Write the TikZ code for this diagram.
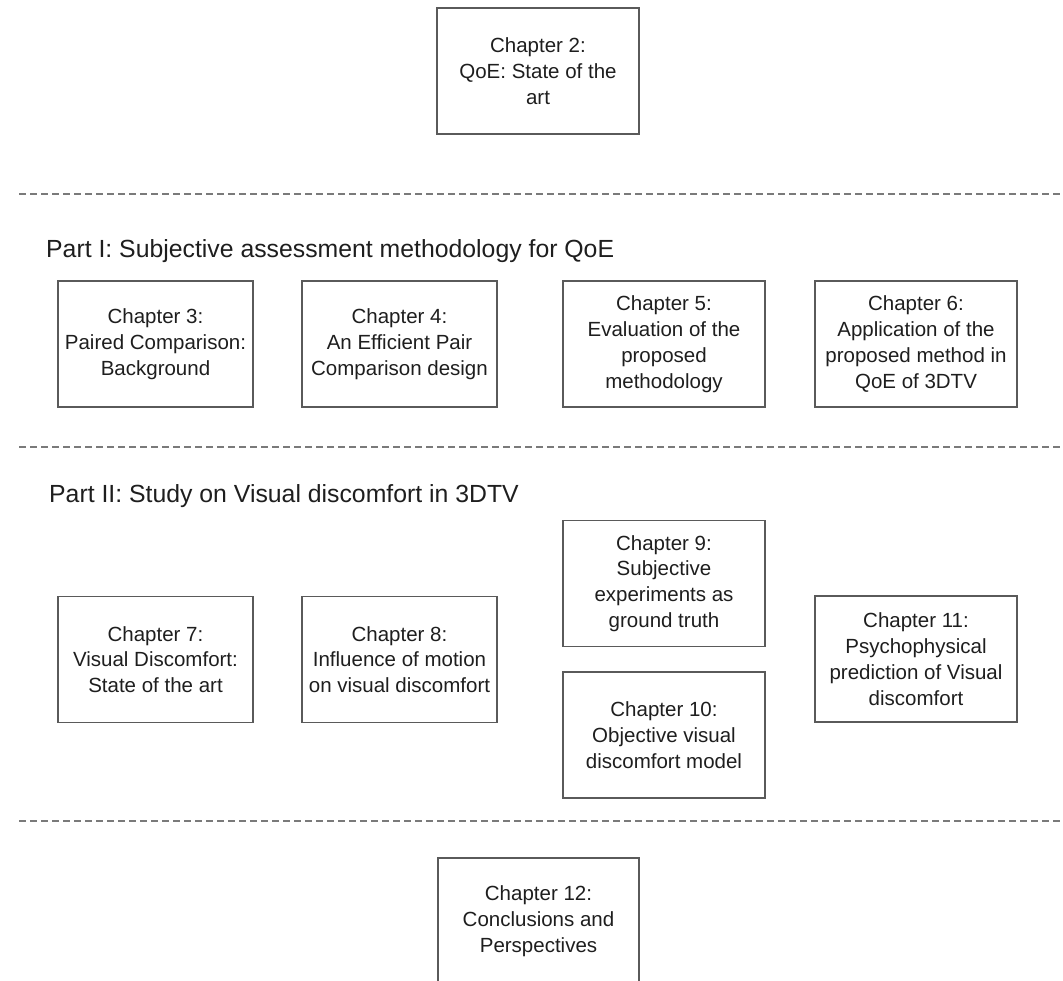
\documentclass[tikz,border=0pt]{standalone}
\usepackage{fontspec}
\setmainfont{Liberation Sans}
\definecolor{boxline}{HTML}{5A5A5A}
\definecolor{dashline}{HTML}{7A7A7A}
\definecolor{txt}{HTML}{1E1E1E}
\begin{document}
\begin{tikzpicture}[x=1pt,y=-1pt,
  chapbox/.style={draw=boxline, line width=1.3pt, text=txt, minimum height=126pt,
    inner sep=2pt, align=center, font=\fontsize{20.5}{25.8}\selectfont},
  wide/.style={minimum width=202pt},
  narrow/.style={minimum width=195pt},
  sep/.style={draw=dashline, line width=1.3pt, dash pattern=on 7pt off 4pt},
  parttitle/.style={anchor=base west, inner sep=0pt, text=txt, font=\fontsize{24.8}{30}\selectfont}]
\useasboundingbox (0,0) rectangle (1063,980);
\begin{scope}
\clip (0,0) rectangle (1063,980);
\node[chapbox,wide] (c2) at (538,71) {Chapter 2:\\QoE: State of the\\art};
\node[chapbox,narrow] (c3) at (155.5,344) {Chapter 3:\\Paired Comparison:\\Background};
\node[chapbox,narrow] (c4) at (399.5,344) {Chapter 4:\\An Efficient Pair\\Comparison design};
\node[chapbox,wide] (c5) at (664,344) {Chapter 5:\\Evaluation of the\\proposed\\methodology};
\node[chapbox,wide] (c6) at (916,344) {Chapter 6:\\Application of the\\proposed method in\\QoE of 3DTV};
\node[chapbox,narrow] (c7) at (155.5,659.5) {Chapter 7:\\Visual Discomfort:\\State of the art};
\node[chapbox,narrow] (c8) at (399.5,659.5) {Chapter 8:\\Influence of motion\\on visual discomfort};
\node[chapbox,wide] (c9) at (664,583.5) {Chapter 9:\\Subjective\\experiments as\\ground truth};
\node[chapbox,wide] (c10) at (664,735) {Chapter 10:\\Objective visual\\discomfort model};
\node[chapbox,wide] (c11) at (916,659) {Chapter 11:\\Psychophysical\\prediction of Visual\\discomfort};
\node[chapbox,wide,minimum width=201pt] (c12) at (538.5,921) {Chapter 12:\\Conclusions and\\Perspectives};
\coordinate (s1a) at (19,194); \coordinate (s1b) at (1063,194);
\coordinate (s2a) at (19,447); \coordinate (s2b) at (1063,447);
\coordinate (s3a) at (19,821); \coordinate (s3b) at (1063,821);
\draw[sep] (s1a) -- (s1b);
\draw[sep] (s2a) -- (s2b);
\draw[sep] (s3a) -- (s3b);
\node[parttitle] (p1) at (46,257) {Part I: Subjective assessment methodology for QoE};
\node[parttitle] (p2) at (49,502) {Part II: Study on Visual discomfort in 3DTV};
\end{scope}
\end{tikzpicture}
\end{document}
